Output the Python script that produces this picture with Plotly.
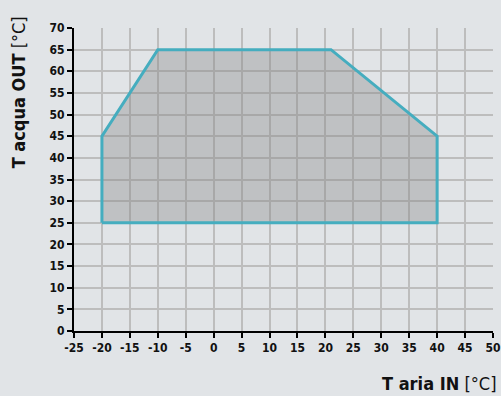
import plotly.graph_objects as go

# Operating envelope: outside air temperature vs. leaving water temperature
t_air_in = [-20, -20, -10, 21, 40, 40, -20]
t_water_out = [25, 45, 65, 65, 45, 25, 25]

x_ticks = list(range(-25, 51, 5))
y_ticks = list(range(0, 71, 5))
x_tick_labels = [str(v) for v in x_ticks]
y_tick_labels = [str(v) for v in y_ticks]

bg = "#e1e4e7"
font_family = "DejaVu Sans Condensed, Liberation Sans Narrow, sans-serif"

fig = go.Figure()
fig.add_trace(go.Scatter(
    x=t_air_in, y=t_water_out,
    mode="lines",
    fill="toself",
    fillcolor="rgba(128,128,128,0.35)",
    line=dict(color="#45adbf", width=3),
    hoverinfo="skip",
    showlegend=False,
))

axis_common = dict(
    showgrid=True, gridcolor="#bdbdbd", gridwidth=1.5,
    showline=True, linecolor="black", linewidth=2,
    ticks="outside", tickcolor="black", ticklen=5, tickwidth=2,
    zeroline=False, automargin=False,
    tickfont=dict(family=font_family, size=12, color="#111111", weight="bold"),
)

fig.update_xaxes(range=[-25, 50], tickvals=x_ticks, ticktext=x_tick_labels, **axis_common)
fig.update_yaxes(range=[0, 70], tickvals=y_ticks, ticktext=y_tick_labels, **axis_common)

fig.update_layout(
    width=501, height=396,
    margin=dict(l=74, r=8, t=28, b=65),
    paper_bgcolor=bg, plot_bgcolor=bg,
    annotations=[
        dict(
            text="<b>T acqua OUT</b> [°C]",
            xref="paper", yref="paper",
            x=0, y=1.045, xshift=-56,
            xanchor="center", yanchor="top",
            textangle=-90, showarrow=False,
            font=dict(family=font_family, size=18, color="#111111"),
        ),
        dict(
            text="<b>T aria IN</b> [°C]",
            xref="paper", yref="paper",
            x=1, y=0, xshift=5, yshift=-40,
            xanchor="right", yanchor="top",
            showarrow=False,
            font=dict(family=font_family, size=18, color="#111111"),
        ),
    ],
)

fig.write_html("out.html")
